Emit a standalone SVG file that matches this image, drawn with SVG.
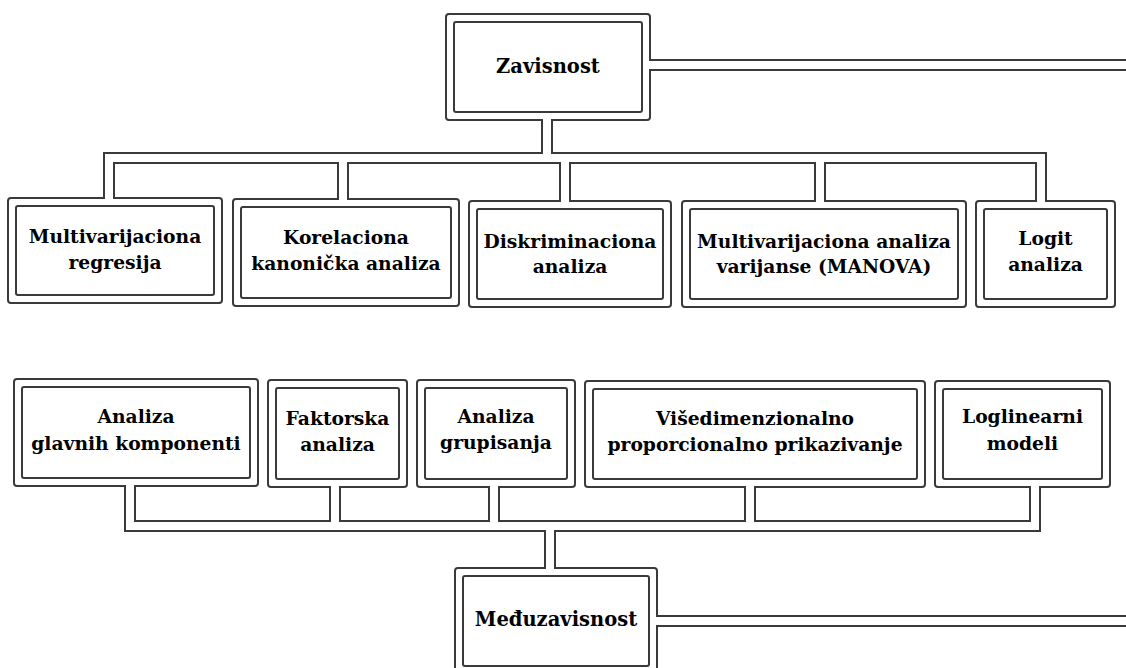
<svg xmlns="http://www.w3.org/2000/svg" xmlns:xlink="http://www.w3.org/1999/xlink" width="1126" height="668" viewBox="0 0 1126 668">
<style>
.outer{fill:#fff;stroke:#3a3a3a;stroke-width:2}
.inner{fill:#fff;stroke:#3a3a3a;stroke-width:2}
.pd{fill:none;stroke:#3a3a3a;stroke-width:12;stroke-linejoin:miter}
.pw{fill:none;stroke:#fff;stroke-width:8;stroke-linejoin:miter}
text{font-family:"DejaVu Serif","Liberation Serif",serif;font-weight:bold;font-size:18.7px;fill:#000;text-anchor:middle}
.hd{font-size:19.5px}
</style>
<defs>
<path id="p1" d="M649,65 H1140"/>
<path id="p2" d="M547,119 V158"/>
<path id="p3" d="M109,199 V158 H1041 V202"/>
<path id="p4" d="M343,200 V158"/>
<path id="p5" d="M565,202 V158"/>
<path id="p6" d="M820,202 V158"/>
<path id="p7" d="M130,485 V526 H1035 V486"/>
<path id="p8" d="M335,486 V526"/>
<path id="p9" d="M494,486 V526"/>
<path id="p10" d="M750,486 V526"/>
<path id="p11" d="M550,526 V569"/>
<path id="p12" d="M656,621 H1140"/>
</defs>
<rect width="1126" height="668" fill="#fff"/>
<g id="zavisnost">
<rect class="outer" x="446" y="14" width="204" height="106" rx="3"/>
<rect class="inner" x="454" y="22" width="188" height="90" rx="2"/>
<text class="hd" x="548" y="72.5">Zavisnost</text>
</g>
<g id="multivarijaciona-regresija">
<rect class="outer" x="8" y="198" width="214" height="105" rx="3"/>
<rect class="inner" x="16" y="206" width="198" height="89" rx="2"/>
<text x="115" y="243">Multivarijaciona</text>
<text x="115" y="269">regresija</text>
</g>
<g id="korelaciona">
<rect class="outer" x="233" y="199" width="226" height="107" rx="3"/>
<rect class="inner" x="241" y="207" width="210" height="91" rx="2"/>
<text x="346" y="244">Korelaciona</text>
<text x="346" y="270">kanonička analiza</text>
</g>
<g id="diskriminaciona">
<rect class="outer" x="469" y="201" width="202" height="106" rx="3"/>
<rect class="inner" x="477" y="209" width="186" height="90" rx="2"/>
<text x="570" y="248">Diskriminaciona</text>
<text x="570" y="273">analiza</text>
</g>
<g id="manova">
<rect class="outer" x="682" y="201" width="284" height="106" rx="3"/>
<rect class="inner" x="690" y="209" width="268" height="90" rx="2"/>
<text x="824" y="248">Multivarijaciona analiza</text>
<text x="824" y="273">varijanse (MANOVA)</text>
</g>
<g id="logit">
<rect class="outer" x="976" y="201" width="139" height="106" rx="3"/>
<rect class="inner" x="984" y="209" width="123" height="90" rx="2"/>
<text x="1045.5" y="245">Logit</text>
<text x="1045.5" y="271">analiza</text>
</g>
<g id="glavne-komponente">
<rect class="outer" x="14" y="379" width="244" height="107" rx="3"/>
<rect class="inner" x="22" y="387" width="228" height="91" rx="2"/>
<text x="136" y="423">Analiza</text>
<text x="136" y="450">glavnih komponenti</text>
</g>
<g id="faktorska">
<rect class="outer" x="268" y="380" width="139" height="107" rx="3"/>
<rect class="inner" x="276" y="388" width="123" height="91" rx="2"/>
<text x="337.5" y="425">Faktorska</text>
<text x="337.5" y="451">analiza</text>
</g>
<g id="grupisanje">
<rect class="outer" x="417" y="380" width="158" height="107" rx="3"/>
<rect class="inner" x="425" y="388" width="142" height="91" rx="2"/>
<text x="496" y="423">Analiza</text>
<text x="496" y="449">grupisanja</text>
</g>
<g id="visedimenzionalno">
<rect class="outer" x="585" y="381" width="340" height="106" rx="3"/>
<rect class="inner" x="593" y="389" width="324" height="90" rx="2"/>
<text x="755" y="425">Višedimenzionalno</text>
<text x="755" y="451">proporcionalno prikazivanje</text>
</g>
<g id="loglinearni">
<rect class="outer" x="935" y="381" width="175" height="106" rx="3"/>
<rect class="inner" x="943" y="389" width="159" height="90" rx="2"/>
<text x="1022.5" y="423">Loglinearni</text>
<text x="1022.5" y="450">modeli</text>
</g>
<g id="meduzavisnost">
<rect class="outer" x="455" y="568" width="202" height="108" rx="3"/>
<rect class="inner" x="463" y="576" width="186" height="90" rx="2"/>
<text class="hd" x="556" y="626">Međuzavisnost</text>
</g>
<g id="connectors">
<g class="pd">
<use xlink:href="#p1"/><use xlink:href="#p2"/><use xlink:href="#p3"/><use xlink:href="#p4"/><use xlink:href="#p5"/><use xlink:href="#p6"/>
<use xlink:href="#p7"/><use xlink:href="#p8"/><use xlink:href="#p9"/><use xlink:href="#p10"/><use xlink:href="#p11"/><use xlink:href="#p12"/>
</g>
<g class="pw">
<use xlink:href="#p1"/><use xlink:href="#p2"/><use xlink:href="#p3"/><use xlink:href="#p4"/><use xlink:href="#p5"/><use xlink:href="#p6"/>
<use xlink:href="#p7"/><use xlink:href="#p8"/><use xlink:href="#p9"/><use xlink:href="#p10"/><use xlink:href="#p11"/><use xlink:href="#p12"/>
</g>
</g>
</svg>
